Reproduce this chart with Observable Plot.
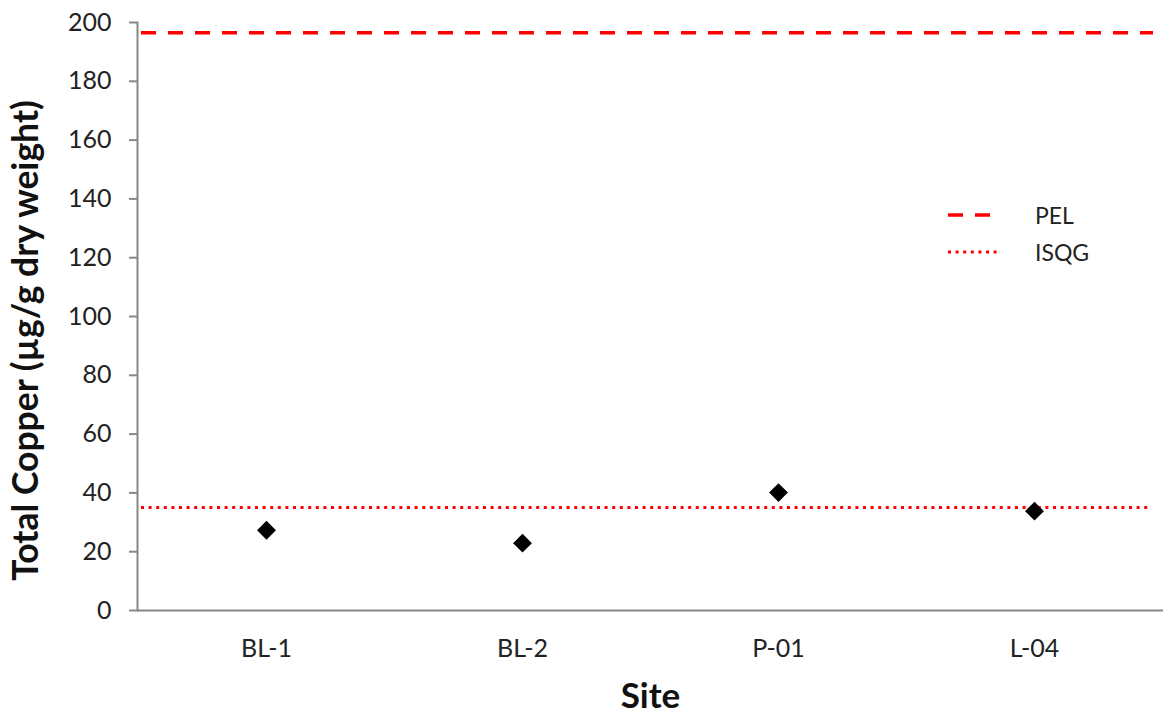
<!DOCTYPE html>
<html>
<head>
<meta charset="utf-8">
<script src="https://cdn.jsdelivr.net/npm/d3@7"></script>
<script src="https://cdn.jsdelivr.net/npm/@observablehq/plot@0.6"></script>
<style>
  body { margin: 0; background: #fff; font-family: Lato, sans-serif; }
  #wrap { position: relative; width: 1163px; height: 715px; overflow: hidden; }
  #legend { position: absolute; left: 948px; top: 196px; font-size: 23px; color: #222; }
  .item { display: flex; align-items: center; height: 37px; }
  .item svg { width: 87px; height: 10px; display: block; }
</style>
</head>
<body>
<div id="wrap"></div>
<script>
// ---- data ----
const sites = ["BL-1", "BL-2", "P-01", "L-04"];
const copper = [27.3, 22.9, 40.1, 33.8];
const yTicks = [0, 20, 40, 60, 80, 100, 120, 140, 160, 180, 200];
const guidelineNames = ["PEL", "ISQG"];
const guidelineValues = [196.5, 35];
const yLabel = "Total Copper (µg/g dry weight)";
const xLabel = "Site";

// ---- chart ----
const points = sites.map((s, i) => ({site: s, cu: copper[i]}));
const axisGray = "#878787";
const red = "#ff0000";
const dashStyles = ["15,12", "3,4.6"];
const dashWidths = [3.5, 3];
const insetsRight = [10, 13];

const chart = Plot.plot({
  width: 1163,
  height: 715,
  marginLeft: 137,
  marginRight: 0,
  marginTop: 22,
  marginBottom: 105,
  style: {fontFamily: "Lato, sans-serif", fontSize: "25px", color: "#222", background: "white"},
  x: {type: "band", domain: sites, padding: 0},
  y: {domain: [0, 200]},
  marks: [
    Plot.frame({anchor: "left", stroke: axisGray, strokeWidth: 2}),
    Plot.ruleY([0], {stroke: axisGray, strokeWidth: 2}),
    Plot.axisY({ticks: yTicks, tickSize: 8, tickPadding: 18, stroke: axisGray, strokeWidth: 2, fill: "#222", label: null}),
    Plot.axisX({tickSize: 0, tickPadding: 29, fill: "#222", label: null}),
    ...guidelineValues.map((v, i) =>
      Plot.ruleY([v], {stroke: red, strokeWidth: dashWidths[i], strokeDasharray: dashStyles[i], insetLeft: 4, insetRight: insetsRight[i]})
    ),
    Plot.dot(points, {x: "site", y: "cu", symbol: "diamond2", r: 8.5, fill: "black"}),
    Plot.text([yLabel], {frameAnchor: "left", textAnchor: "middle", rotate: -90, dx: -111, dy: 24, fontWeight: "bold", fontSize: 35.5, fill: "#111"}),
    Plot.text([xLabel], {frameAnchor: "bottom", textAnchor: "middle", dy: 97, fontWeight: "bold", fontSize: 35, fill: "#111"})
  ]
});

const wrap = document.getElementById("wrap");
wrap.appendChild(chart);

// ---- legend ----
const legend = document.createElement("div");
legend.id = "legend";
guidelineNames.forEach((name, i) => {
  const row = document.createElement("div");
  row.className = "item";
  const ns = "http://www.w3.org/2000/svg";
  const svg = document.createElementNS(ns, "svg");
  const line = document.createElementNS(ns, "line");
  line.setAttribute("x1", 0);
  line.setAttribute("x2", i === 0 ? 43 : 49);
  line.setAttribute("y1", 5);
  line.setAttribute("y2", 5);
  line.setAttribute("stroke", red);
  line.setAttribute("stroke-width", dashWidths[i]);
  line.setAttribute("stroke-dasharray", dashStyles[i]);
  svg.appendChild(line);
  row.appendChild(svg);
  const span = document.createElement("span");
  span.textContent = name;
  row.appendChild(span);
  legend.appendChild(row);
});
wrap.appendChild(legend);
</script>
</body>
</html>
